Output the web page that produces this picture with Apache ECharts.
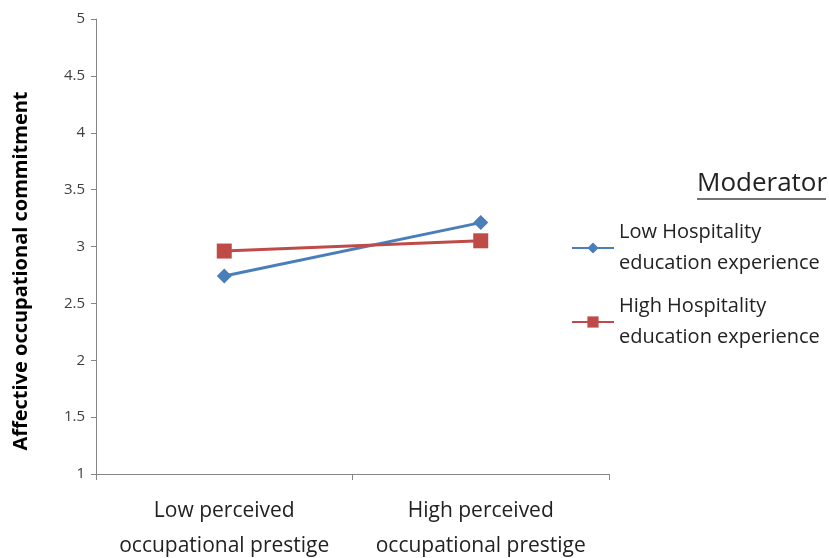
<!DOCTYPE html>
<html><head><meta charset="utf-8">
<script src="https://cdn.jsdelivr.net/npm/echarts@6/dist/echarts.min.js"></script>
<style>html,body{margin:0;padding:0;background:#fff}#c{width:829px;height:558px}</style>
</head><body><div id="c"></div>
<script>
const categories = ['Low perceived\noccupational prestige', 'High perceived\noccupational prestige'];
const lowHospitality = [2.74, 3.21];
const highHospitality = [2.96, 3.05];
const yTicks = [1, 1.5, 2, 2.5, 3, 3.5, 4, 4.5, 5];
const seriesNames = ['Low Hospitality\neducation experience', 'High Hospitality\neducation experience'];
const yTitle = 'Affective occupational commitment';
const FONT = '"Open Sans", "Liberation Sans", sans-serif';
const chart = echarts.init(document.getElementById('c'));
chart.setOption({
  animation: false,
  grid: {left: 96, top: 19, right: 220, bottom: 84, containLabel: false, outerBoundsMode: 'none'},
  xAxis: {
    type: 'category', data: categories, boundaryGap: true,
    axisLine: {lineStyle: {color: '#868686'}},
    axisTick: {show: true, alignWithLabel: false, length: 6, lineStyle: {color: '#868686'}},
    axisLabel: {interval: 0, fontFamily: FONT, fontSize: 21, color: '#222', lineHeight: 35, margin: 20}
  },
  yAxis: {
    type: 'value', min: yTicks[0], max: yTicks[yTicks.length - 1], interval: 0.5,
    axisLine: {show: true, lineStyle: {color: '#868686'}},
    axisTick: {show: true, length: 5, lineStyle: {color: '#868686'}},
    splitLine: {show: false},
    axisLabel: {fontFamily: FONT, fontSize: 15, color: '#404040', margin: 11}
  },
  legend: {
    orient: 'vertical', left: 566, top: 212, itemGap: 12,
    itemWidth: 42, itemHeight: 14,
    textStyle: {fontFamily: FONT, fontSize: 20, color: '#222', lineHeight: 31},
    data: seriesNames
  },
  graphic: [
    {type: 'text', x: 21, y: 271, rotation: Math.PI / 2,
     style: {text: yTitle, font: 'bold 20px ' + FONT, fill: '#000', align: 'center', verticalAlign: 'middle'}},
    {type: 'text', left: 697, top: 171, style: {text: 'Moderator', font: '26px ' + FONT, fill: '#222'}},
    {type: 'line', shape: {x1: 697, y1: 199, x2: 826, y2: 199}, style: {stroke: '#444', lineWidth: 1.5}}
  ],
  series: [
    {name: seriesNames[0], type: 'line', data: lowHospitality, symbol: 'diamond', symbolSize: 15,
     itemStyle: {color: '#4a7ebb'}, lineStyle: {color: '#4a7ebb', width: 3}},
    {name: seriesNames[1], type: 'line', data: highHospitality, symbol: 'rect', symbolSize: 15,
     itemStyle: {color: '#be4b48'}, lineStyle: {color: '#be4b48', width: 3}}
  ]
});
</script></body></html>
